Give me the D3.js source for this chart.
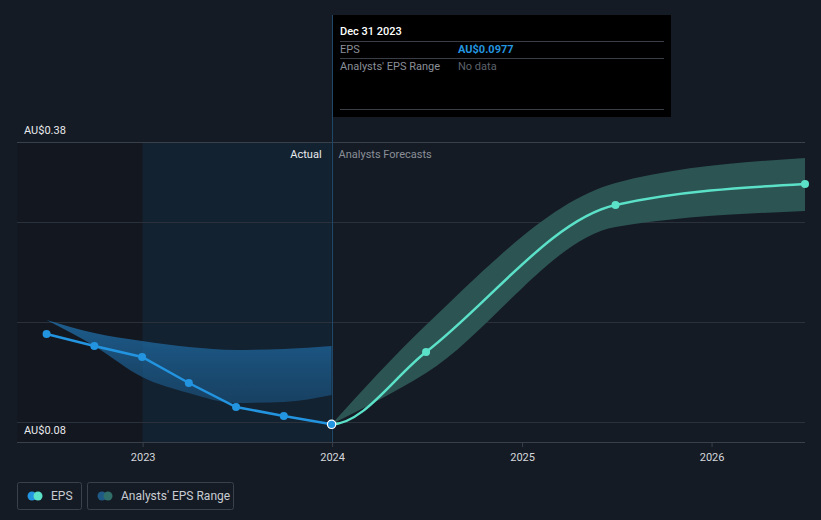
<!DOCTYPE html>
<html><head><meta charset="utf-8">
<script src="https://cdn.jsdelivr.net/npm/d3@7"></script>
<style>
html,body{margin:0;padding:0;background:#151b24;}
svg{display:block;font-family:Roboto,"Noto Sans",sans-serif;}
</style></head>
<body><svg id="c" width="821" height="520"></svg>
<script>
// ---- data ----
const actualDates = ["2022-06-30","2022-09-30","2022-12-31","2023-03-31","2023-06-30","2023-09-30","2023-12-31"];
const actualEPS   = [0.188, 0.176, 0.165, 0.139, 0.115, 0.106, 0.0977];
const pastRangeHigh = [0.202, 0.189, 0.181, 0.175, 0.172, 0.173, 0.176];
const pastRangeLow  = [0.202, 0.176, 0.145, 0.129, 0.119, 0.120, 0.127];
const forecastDates = ["2023-12-31","2024-06-30","2025-06-30","2026-06-30"];
const forecastEPS   = [0.0977, 0.170, 0.317, 0.338];
const forecastHigh  = [0.0977, 0.197, 0.339, 0.364];
const forecastLow   = [0.0977, 0.149, 0.295, 0.311];
const yearTicks = ["2023","2024","2025","2026"];
const gridValues = [0.10, 0.20, 0.30, 0.38];
const yLabelTop = "AU$0.38", yLabelBottom = "AU$0.08";
const tooltipDate = "Dec 31 2023", tooltipEPS = "AU$0.0977", tooltipRange = "No data";

const parse = d3.timeParse("%Y-%m-%d");
const svg = d3.select("#c");
const L = 17, R = 805, T = 142, B = 442;
const x = d3.scaleTime().domain([parse("2022-05-04"), parse("2026-06-30")]).range([L, R]);
const y = d3.scaleLinear().domain([0.08, 0.38]).range([B, T]);

const xa = x(parse("2023-01-01")), xNow = x(parse("2023-12-31"));

const defs = svg.append("defs");
defs.append("clipPath").attr("id", "fclip").append("rect")
  .attr("x", xNow).attr("y", 0).attr("width", 821 - xNow).attr("height", 520);

// background regions
svg.append("rect").attr("x", L).attr("y", T).attr("width", xa - L).attr("height", B - T).attr("fill", "#13171f");
svg.append("rect").attr("x", xa).attr("y", T).attr("width", xNow - xa).attr("height", B - T).attr("fill", "#132231");

// grid
svg.append("g").selectAll("line").data(gridValues).join("line")
  .attr("x1", L).attr("x2", R).attr("y1", d => Math.round(y(d)) + 0.5).attr("y2", d => Math.round(y(d)) + 0.5)
  .attr("stroke", d => d === 0.38 ? "#3a404a" : "#2b313a").attr("stroke-width", 1);

// axis
const xAxis = d3.axisBottom(x).tickValues(yearTicks.map(t => parse(t + "-01-01"))).tickFormat(d3.timeFormat("%Y")).tickSize(5).tickPadding(6);
const ax = svg.append("g").attr("transform", `translate(0,${B})`).call(xAxis);
ax.select(".domain").attr("stroke", "#3a404a").attr("d", `M${L},0.5H${R}`);
ax.selectAll(".tick line").attr("stroke", "#3a404a");
ax.selectAll(".tick text").attr("fill", "#d4d7dc").attr("font-size", 11).attr("font-family", "Roboto, sans-serif");

// past range band
const g1 = defs.append("linearGradient").attr("id", "pg").attr("x1", 0).attr("x2", 0).attr("y1", 0).attr("y2", 1);
g1.append("stop").attr("offset", "0%").attr("stop-color", "#2074b3").attr("stop-opacity", 0.75);
g1.append("stop").attr("offset", "100%").attr("stop-color", "#1c5a8a").attr("stop-opacity", 0.55);

const pastBand = actualDates.map((d, i) => ({d: parse(d), hi: pastRangeHigh[i], lo: pastRangeLow[i]}));
svg.append("path").datum(pastBand)
  .attr("d", d3.area().curve(d3.curveMonotoneX).x(p => x(p.d)).y0(p => y(p.lo)).y1(p => y(p.hi)))
  .attr("fill", "url(#pg)");

// forecast band
const fBand = forecastDates.map((d, i) => ({d: parse(d), hi: forecastHigh[i], lo: forecastLow[i]}));
svg.append("path").datum(fBand)
  .attr("d", d3.area().curve(d3.curveMonotoneX).x(p => x(p.d)).y0(p => y(p.lo)).y1(p => y(p.hi)))
  .attr("fill", "#2c5453");

// vertical "now" line
svg.append("line").attr("x1", Math.round(xNow) + 0.5).attr("x2", Math.round(xNow) + 0.5).attr("y1", 15).attr("y2", B)
  .attr("stroke", "#1f4868").attr("stroke-width", 1);

// labels Actual / Analysts Forecasts
svg.append("text").attr("x", xNow - 10).attr("y", 158).attr("text-anchor", "end").attr("fill", "#e8eaed").attr("font-size", 11).text("Actual");
svg.append("text").attr("x", xNow + 7).attr("y", 158).attr("fill", "#8a8f98").attr("font-size", 11).text("Analysts Forecasts");

// forecast line (continues the curve from the preceding actual point, shown from now on)
const fPts = forecastDates.map((d, i) => ({d: parse(d), v: forecastEPS[i]}));
const n = actualDates.length;
const fLinePts = [{d: parse(actualDates[n - 2]), v: actualEPS[n - 2]}].concat(fPts);
svg.append("path").datum(fLinePts).attr("clip-path", "url(#fclip)")
  .attr("d", d3.line().curve(d3.curveMonotoneX).x(p => x(p.d)).y(p => y(p.v)))
  .attr("fill", "none").attr("stroke", "#5ce1c9").attr("stroke-width", 2.5);
svg.append("g").selectAll("circle").data(fPts.slice(1)).join("circle")
  .attr("cx", p => x(p.d)).attr("cy", p => y(p.v)).attr("r", 4).attr("fill", "#5ce1c9");

// actual line
const aPts = actualDates.map((d, i) => ({d: parse(d), v: actualEPS[i]}));
svg.append("path").datum(aPts)
  .attr("d", d3.line().x(p => x(p.d)).y(p => y(p.v)))
  .attr("fill", "none").attr("stroke", "#2394df").attr("stroke-width", 2.5);
svg.append("g").selectAll("circle").data(aPts).join("circle")
  .attr("cx", p => x(p.d)).attr("cy", p => y(p.v))
  .attr("r", (p, i) => i === aPts.length - 1 ? 4.2 : 4)
  .attr("fill", "#2394df")
  .attr("stroke", (p, i) => i === aPts.length - 1 ? "#ffffff" : "none")
  .attr("stroke-width", 1.2);

// y labels
svg.append("text").attr("x", 24).attr("y", 134).attr("fill", "#e8eaed").attr("font-size", 11).text(yLabelTop);
svg.append("text").attr("x", 24).attr("y", 434).attr("fill", "#e8eaed").attr("font-size", 11).text(yLabelBottom);

// tooltip
const tt = svg.append("g");
tt.append("rect").attr("x", 333).attr("y", 15).attr("width", 338).attr("height", 102).attr("fill", "#000000");
tt.append("text").attr("x", 340).attr("y", 35).attr("fill", "#ffffff").attr("font-size", 11).attr("font-weight", 500).text(tooltipDate);
[41.5, 58.5, 109.5].forEach(yy => tt.append("line").attr("x1", 340).attr("x2", 664).attr("y1", yy).attr("y2", yy).attr("stroke", "#3a3f47"));
tt.append("text").attr("x", 340).attr("y", 53).attr("fill", "#8a8f98").attr("font-size", 11).text("EPS");
tt.append("text").attr("x", 458).attr("y", 53).attr("fill", "#2394df").attr("font-size", 11).attr("font-weight", 700).text(tooltipEPS);
tt.append("text").attr("x", 340).attr("y", 70).attr("fill", "#8a8f98").attr("font-size", 11).text("Analysts' EPS Range");
tt.append("text").attr("x", 458).attr("y", 70).attr("fill", "#5d626a").attr("font-size", 11).text(tooltipRange);

// legend
const legend = [
  {x: 17, w: 64, c1: "#2394df", c2: "#5ce1c9", label: "EPS"},
  {x: 87, w: 146, c1: "#1f5a87", c2: "#2f6e69", label: "Analysts' EPS Range"}
];
const lg = svg.append("g").selectAll("g").data(legend).join("g");
lg.append("rect").attr("x", d => d.x + 0.5).attr("y", 482.5).attr("width", d => d.w).attr("height", 27).attr("rx", 2)
  .attr("fill", "none").attr("stroke", "#3b414b");
lg.append("circle").attr("cx", d => d.x + 15).attr("cy", 496).attr("r", 4.5).attr("fill", d => d.c1);
lg.append("circle").attr("cx", d => d.x + 21).attr("cy", 496).attr("r", 4.5).attr("fill", d => d.c2);
lg.append("text").attr("x", d => d.x + 34).attr("y", 500).attr("fill", "#c8ccd2").attr("font-size", 12).text(d => d.label);
</script></body></html>
